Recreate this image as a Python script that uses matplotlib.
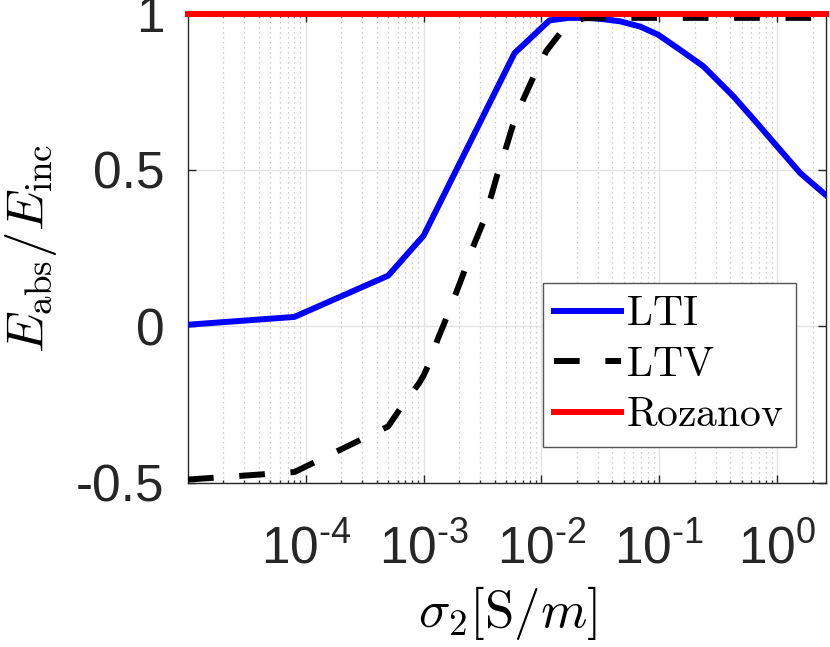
import numpy as np
import matplotlib
matplotlib.use('Agg')
import matplotlib.pyplot as plt
from matplotlib.ticker import FixedLocator, FixedFormatter, LogLocator, NullFormatter

# values
sigma_lti = [1e-5, 8e-5, 5e-4, 1e-3, 5.9e-3, 1.17e-2, 1.7e-2, 2.5e-2, 3.3e-2,
             4.65e-2, 6.9e-2, 9.8e-2, 0.15, 0.237, 0.426, 0.673, 1.0, 1.57, 2.6]
E_lti = [0.005, 0.03, 0.162, 0.29, 0.873, 0.978, 0.986, 0.986, 0.982,
         0.975, 0.958, 0.932, 0.884, 0.831, 0.735, 0.65, 0.575, 0.49, 0.419]

sigma_ltv = [1e-5, 8e-5, 5e-4, 6.6e-4, 9.1e-4, 1e-3, 1.14e-3, 1.32e-3, 1.49e-3,
             1.75e-3, 2.16e-3, 2.6e-3, 3.18e-3, 3.7e-3, 4.2e-3, 4.9e-3, 5.7e-3,
             7e-3, 8.55e-3, 1.1e-2, 1.44e-2, 1.8e-2, 2.3e-2, 5e-2, 0.3, 1.0, 2.6]
E_ltv = [-0.49, -0.466, -0.32, -0.253, -0.183, -0.157, -0.11, -0.04, 0.008,
         0.075, 0.165, 0.25, 0.33, 0.41, 0.482, 0.56, 0.641,
         0.725, 0.797, 0.88, 0.937, 0.97, 0.985, 0.986, 0.986, 0.986, 0.986]

sigma_roz = [1e-5, 2.6]
E_roz = [1.0, 1.0]

x_ticks = [1e-4, 1e-3, 1e-2, 1e-1, 1e0]
x_tick_labels = ['$\\mathregular{10^{\u2010' + e + '}}$' for e in ['4', '3', '2', '1']] \
    + [r'$\mathregular{10^{0}}$']
y_ticks = [-0.5, 0, 0.5, 1]
y_tick_labels = ['-0.5', '0', '0.5', '1']

plt.rcParams['font.family'] = ['Liberation Sans', 'DejaVu Sans']
plt.rcParams['mathtext.fontset'] = 'cm'
plt.rcParams['axes.unicode_minus'] = False

axis_col = '#262626'

fig = plt.figure(figsize=(8.3, 6.47), dpi=100)
ax = fig.add_axes([188 / 830, 1 - 482.7 / 647, (826 - 188) / 830, (482.7 - 13.5) / 647])

lw = 4.3
ax.plot(sigma_lti, E_lti, color='#0000ff', lw=lw, label=r'$\mathrm{LTI}$', zorder=3)
ax.plot(sigma_ltv, E_ltv, color='black', lw=lw, dashes=(4.3, 4.3),
        label=r'$\mathrm{LTV}$', zorder=4)
ax.plot(sigma_roz, E_roz, color='#ff0000', lw=lw, label=r'$\mathrm{Rozanov}$',
        zorder=5, clip_on=False)

ax.set_xscale('log')
ax.set_xlim(1e-5, 2.6)
ax.set_ylim(-0.5, 1)

ax.xaxis.set_major_locator(FixedLocator(x_ticks))
ax.xaxis.set_major_formatter(FixedFormatter(x_tick_labels))
ax.xaxis.set_minor_locator(LogLocator(base=10, subs=np.arange(2, 10), numticks=20))
ax.xaxis.set_minor_formatter(NullFormatter())
ax.yaxis.set_major_locator(FixedLocator(y_ticks))
ax.yaxis.set_major_formatter(FixedFormatter(y_tick_labels))

ax.grid(True, which='major', color='#e3e3e3', lw=1.0, ls='-')
ax.grid(True, which='minor', axis='x', color='#bdbdbd', lw=0.9, ls=(0, (1, 3)))
ax.set_axisbelow(True)

ax.tick_params(which='both', direction='in', top=True, right=True, colors=axis_col,
               width=1.0)
ax.tick_params(which='major', length=5.5)
ax.tick_params(which='minor', length=2.5)
ax.tick_params(axis='y', labelsize=37, pad=17)
ax.tick_params(axis='x', labelsize=37, pad=30)
for t in ax.get_xticklabels() + ax.get_yticklabels():
    t.set_color(axis_col)
for s in ax.spines.values():
    s.set_color(axis_col)
    s.set_linewidth(1.0)

ax.set_xlabel(r'$\sigma_2[\mathrm{S}/m]$', fontsize=38, labelpad=7)
ax.set_ylabel(r'$E_{\rm abs}/E_{\rm inc}$', fontsize=38, labelpad=12)

leg = ax.legend(loc='upper left', bbox_to_anchor=(0.556, 0.426), fontsize=30,
                frameon=True, fancybox=False, framealpha=1, edgecolor='#555555',
                handlelength=1.6, handletextpad=0.12, borderpad=0.28,
                labelspacing=0.25, borderaxespad=0)
leg.get_frame().set_linewidth(1.0)

fig.savefig('out.png', dpi=100)
